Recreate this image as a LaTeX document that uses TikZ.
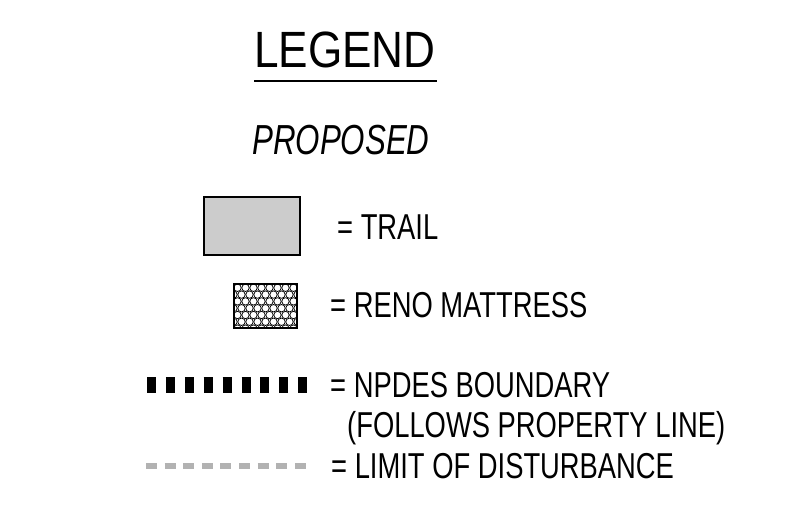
\documentclass[tikz,border=0pt]{standalone}
\usepackage{fontspec}
\setmainfont{Liberation Sans}
\usepackage{graphicx}
\begin{document}
\begin{tikzpicture}[x=1pt,y=-1pt,
  txt/.style={anchor=base west,inner sep=0pt,font=\fontsize{36}{40}\selectfont},
  trailbox/.style={draw=black,line width=2.5pt,fill=black!20,minimum width=96pt,minimum height=58pt,inner sep=0pt},
  renobox/.style={draw=black,line width=1.6pt,minimum width=63pt,minimum height=44pt,inner sep=0pt}]
\useasboundingbox (0,0) rectangle (793,508);
% title
\node[anchor=base west,inner sep=0pt,font=\fontsize{51}{60}\selectfont] (title) at (254,68) {\scalebox{0.865}[1]{LEGEND}};
\draw[line width=2pt] (254,81.5) -- (437,81.5);
\node[anchor=base west,inner sep=0pt,font=\fontsize{42}{50}\selectfont\itshape] (proposed) at (252,155) {\scalebox{0.745}[1]{PROPOSED}};
% trail
\node[trailbox] (trail) at (252,226) {};
\node[txt] (trailtxt) at (337,239.5) {\scalebox{0.76}[1]{= TRAIL}};
% reno mattress
\begin{scope}
\clip (234,284) rectangle (297,328);
\foreach \j in {0,...,7} {
  \foreach \i in {-1,...,8} {
    \pgfmathsetmacro{\xx}{234+3.5+\i*8+mod(\j,2)*4}
    \pgfmathsetmacro{\yy}{284+3.8+\j*6.8}
    \draw[line width=0.75pt] (\xx,\yy) circle[radius=3.7];
  }
}
\end{scope}
\node[renobox] (reno) at (265.5,306) {};
\node[txt] (renotxt) at (330,317.5) {\scalebox{0.76}[1]{= RENO MATTRESS}};
% NPDES boundary
\coordinate (npa) at (147,385);
\coordinate (npb) at (307,385);
\draw[line width=16pt,dash pattern=on 9pt off 9.9pt] (npa) -- (npb);
\node[txt] (npdestxt) at (330,397.5) {\scalebox{0.76}[1]{= NPDES BOUNDARY}};
\node[txt] (followtxt) at (347,437.5) {\scalebox{0.76}[1]{(FOLLOWS PROPERTY LINE)}};
% limit of disturbance
\coordinate (loa) at (146,466);
\coordinate (lob) at (306,466);
\draw[line width=6pt,black!30,dash pattern=on 11pt off 7.6pt] (loa) -- (lob);
\node[txt] (limittxt) at (331,478.5) {\scalebox{0.76}[1]{= LIMIT OF DISTURBANCE}};
\end{tikzpicture}
\end{document}
